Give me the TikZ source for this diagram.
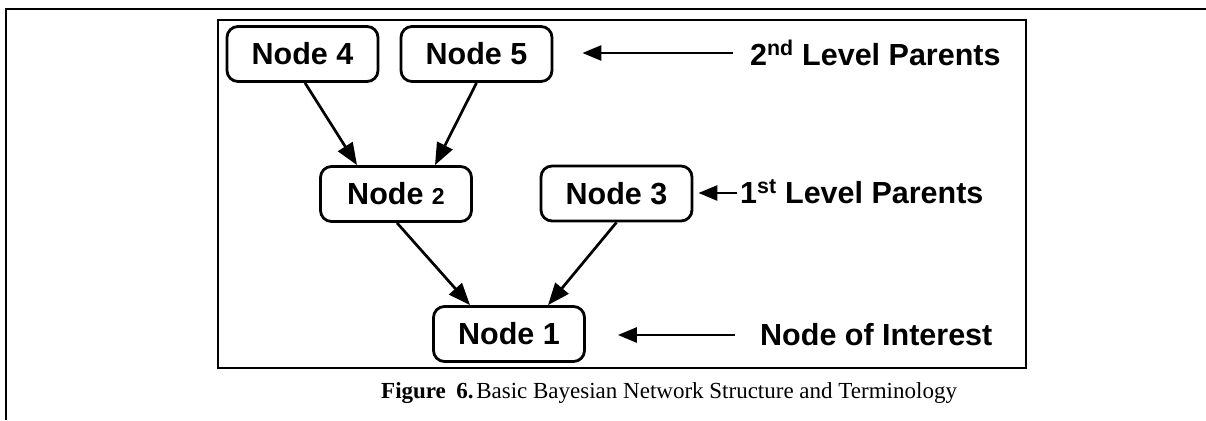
\documentclass[tikz,border=0pt]{standalone}
\usepackage{fontspec}
\setmainfont{Liberation Serif}
\newfontfamily\labelfont{Liberation Sans}
\usetikzlibrary{arrows.meta,calc}

\begin{document}
\begin{tikzpicture}[x=1pt,y=-1pt,
  netnode/.style={draw, line width=2.8pt, rounded corners=11pt,
    minimum width=151pt, minimum height=55pt, inner sep=0pt,
    font=\labelfont\bfseries\fontsize{30.5}{35}\selectfont},
  link/.style={line width=2.7pt, -{Triangle[length=22pt,width=17pt]}},
  pointer/.style={line width=2.7pt, -{Triangle[length=19pt,width=15pt]}},
  lvl/.style={anchor=base west, inner sep=0pt,
    font=\labelfont\bfseries\fontsize{30.5}{35}\selectfont},
  caption/.style={anchor=base west, inner sep=0pt,
    font=\fontsize{23}{27}\selectfont}]
\useasboundingbox (0,0) rectangle (1206,420);

% page frame (top and left edges) and figure frame
\draw[line width=2pt] (1206,9) -- (6,9) -- (6,420);
\draw[line width=1.6pt] (218,20) rectangle (1026,368);

% network nodes
\node[netnode] (n4) at (302.5,54) {Node 4};
\node[netnode] (n5) at (476.5,54) {Node 5};
\node[netnode] (n2) at (396,194)  {Node {\fontsize{23}{26}\selectfont 2}};
\node[netnode] (n3) at (616.5,193.5) {Node 3};
\node[netnode] (n1) at (509,334)  {Node 1};

% parent links
\draw[link] ($(n4.south)+(2.5,0)$) -- ($(n2.north)+(-39,0)$);
\draw[link] ($(n5.south)+(0,0)$)   -- ($(n2.north)+(39,0)$);
\draw[link] ($(n2.south)+(1,0)$)   -- ($(n1.north)+(-39,0)$);
\draw[link] ($(n3.south)+(0,0)$)   -- ($(n1.north)+(39,0)$);

% level labels
\node[lvl] (l2) at (750,65)  {2\textsuperscript{nd} Level Parents};
\node[lvl] (l1) at (740,203) {1\textsuperscript{st} Level Parents};
\node[lvl] (l0) at (760,345) {Node of Interest};

\coordinate (p2) at (733,53);
\coordinate (p1) at (737,193);
\coordinate (p0) at (735,335);
\draw[pointer] (p2) -- ($(n5.east)+(29,-1)$);
\draw[pointer] (p1) -- ($(n3.east)+(5,-0.5)$);
\draw[pointer] (p0) -- ($(n1.east)+(32,1)$);

% caption
\node[caption] (cap) at (381,398)
  {\textbf{Figure\hspace{0.45em}6.}\hspace{0.12em}Basic Bayesian Network Structure and Terminology};
\end{tikzpicture}
\end{document}
